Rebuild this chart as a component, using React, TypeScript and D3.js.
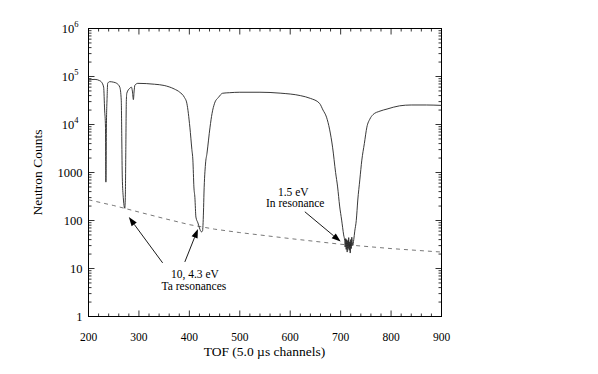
import React, { useEffect, useRef } from "react";
import * as d3 from "d3";

// transmission spectrum (channel, counts)
const tofChannels = [
  200, 213, 222, 226, 230, 232, 233.7, 234.5, 235.5, 237, 238, 242, 250, 256, 262, 265, 266, 267, 269, 271, 272, 273,
  274, 275, 276, 282, 285, 287, 289, 290.5, 292, 298, 331, 350, 370, 381, 390, 395, 401, 405, 407, 409, 411, 413, 417,
  420, 424, 426, 428, 429, 432, 435, 441, 445, 450, 458, 466, 480, 500, 540, 580, 620, 640, 658, 665, 672, 678, 684,
  690, 694, 698, 702, 706, 708, 709, 710, 711, 712, 713, 714, 715, 716, 717, 718, 719, 720, 721, 722, 724, 726, 728,
  731, 734, 738, 742, 747, 752, 758, 764, 778, 792, 817, 840, 870, 900,
];
const counts = [
  85000, 87000, 82000, 76000, 60000, 20000, 8800, 630, 8800, 40000, 72000, 78000, 76000, 72000, 60000, 32000, 5000, 800,
  300, 190, 180, 300, 3000, 30000, 45000, 57000, 60000, 50000, 33000, 50000, 66000, 72000, 69000, 65000, 55000, 47000,
  37000, 27700, 8800, 3000, 1810, 500, 300, 118, 89, 70, 58, 60, 150, 373, 1500, 2530, 8800, 17000, 27700, 37000, 44800,
  46000, 47000, 47000, 45000, 40000, 35000, 27700, 20000, 14200, 8000, 3370, 1000, 500, 200, 102, 50, 38, 28, 42, 25,
  40, 22, 38, 26, 44, 24, 36, 21, 40, 26, 45, 30, 40, 60, 100, 267, 700, 1810, 4000, 8800, 13000, 16000, 19000, 21000,
  24500, 25500, 25500, 25000,
];

// dashed background estimate
const bgChannels = [200, 250, 300, 350, 400, 450, 500, 600, 700, 800, 900];
const bgCounts = [270, 205, 150, 110, 82, 66, 56, 42, 32, 26, 22];

const xTicks = [200, 300, 400, 500, 600, 700, 800, 900];
const yTicks = [1, 10, 100, 1000, 1e4, 1e5, 1e6];
const yTickLabels = [
  { base: "1", sup: "" },
  { base: "10", sup: "" },
  { base: "100", sup: "" },
  { base: "1000", sup: "" },
  { base: "10", sup: "4" },
  { base: "10", sup: "5" },
  { base: "10", sup: "6" },
];

// annotations in data coords
const arrows = [
  { from: [347, 13.1], to: [280, 118] },
  { from: [391, 13.7], to: [417, 66.6] },
  { from: [629, 152], to: [700, 36.3] },
];
const notes = [
  { text: "10, 4.3 eV", x: 411, y: 6.4 },
  { text: "Ta resonances", x: 409, y: 3.6 },
  { text: "1.5 eV", x: 606, y: 323 },
  { text: "In resonance", x: 610, y: 191 },
];

function App() {
  const chart = useRef<SVGSVGElement>(null);

  useEffect(() => {
    const width = 598;
    const height = 374;
    const margin = { top: 28.5, right: 156.5, bottom: 57.5, left: 88.5 };
    const svg = d3.select(chart.current).attr("width", width).attr("height", height);
    const g = svg.append("g");
    const font = "'Liberation Serif', 'Times New Roman', serif";

    const x = d3.scaleLinear().domain([200, 900]).range([margin.left, width - margin.right]);
    const y = d3.scaleLog().domain([1, 1e6]).range([height - margin.bottom, margin.top]);
    const [x0, x1] = x.range();
    const [y0, y1] = y.range();

    // frame
    g.append("rect")
      .attr("x", x0).attr("y", y1)
      .attr("width", x1 - x0).attr("height", y0 - y1)
      .attr("fill", "none").attr("stroke", "#000").attr("stroke-width", 1);

    // x ticks, bottom and top
    const xMinor = d3.range(200, 901, 20);
    xMinor.forEach(v => {
      const major = v % 100 === 0;
      const len = major ? 6 : 3;
      g.append("line").attr("x1", x(v)).attr("x2", x(v)).attr("y1", y0).attr("y2", y0 - len)
        .attr("stroke", "#000").attr("stroke-width", 0.8);
      g.append("line").attr("x1", x(v)).attr("x2", x(v)).attr("y1", y1).attr("y2", y1 + len)
        .attr("stroke", "#000").attr("stroke-width", 0.8);
    });
    g.selectAll(".xlab").data(xTicks).enter().append("text")
      .attr("x", d => x(d)).attr("y", y0 + 24)
      .attr("text-anchor", "middle").attr("font-family", font).attr("font-size", 11.5)
      .text(d => d);

    // y ticks, left and right
    const yMinor: number[] = [];
    for (let e = 0; e < 6; e++) for (let k = 1; k < 10; k++) yMinor.push(k * Math.pow(10, e));
    yMinor.push(1e6);
    yMinor.forEach(v => {
      const major = Math.abs(Math.log10(v) - Math.round(Math.log10(v))) < 1e-9;
      const len = major ? 6 : 3;
      g.append("line").attr("x1", x0).attr("x2", x0 + len).attr("y1", y(v)).attr("y2", y(v))
        .attr("stroke", "#000").attr("stroke-width", 0.8);
      g.append("line").attr("x1", x1).attr("x2", x1 - len).attr("y1", y(v)).attr("y2", y(v))
        .attr("stroke", "#000").attr("stroke-width", 0.8);
    });
    yTicks.forEach((v, i) => {
      const lab = yTickLabels[i];
      const t = g.append("text")
        .attr("x", lab.sup ? x0 - 10 : x0 - 6).attr("y", y(v) + 4)
        .attr("text-anchor", "end").attr("font-family", font).attr("font-size", 12.5);
      t.append("tspan").text(lab.base);
      if (lab.sup) {
        t.append("tspan").attr("dy", -6).attr("font-size", 8.5).text(lab.sup);
      }
    });

    // axis titles
    g.append("text")
      .attr("x", (x0 + x1) / 2 - 0.5).attr("y", 356)
      .attr("text-anchor", "middle").attr("font-family", font).attr("font-size", 13.5)
      .text("TOF (5.0 \u00b5s channels)");
    g.append("text")
      .attr("transform", `translate(42, ${(y0 + y1) / 2}) rotate(-90)`)
      .attr("text-anchor", "middle").attr("font-family", font).attr("font-size", 13.5)
      .text("Neutron Counts");

    // background dashed
    const line = d3.line<[number, number]>().x(d => x(d[0])).y(d => y(d[1]));
    g.append("path")
      .attr("d", line(bgChannels.map((c, i) => [c, bgCounts[i]] as [number, number])))
      .attr("fill", "none").attr("stroke", "#555").attr("stroke-width", 0.8)
      .attr("stroke-dasharray", "4,4");

    // spectrum
    g.append("path")
      .attr("d", line.curve(d3.curveMonotoneX)(tofChannels.map((c, i) => [c, counts[i]] as [number, number])))
      .attr("fill", "none").attr("stroke", "#222").attr("stroke-width", 0.9);

    // arrows
    arrows.forEach(a => {
      const fx = x(a.from[0]), fy = y(a.from[1]);
      const tx = x(a.to[0]), ty = y(a.to[1]);
      const ang = Math.atan2(ty - fy, tx - fx);
      const hl = 9, hw = 3.2;
      const bx = tx - hl * Math.cos(ang), by = ty - hl * Math.sin(ang);
      g.append("line").attr("x1", fx).attr("y1", fy).attr("x2", bx).attr("y2", by)
        .attr("stroke", "#000").attr("stroke-width", 0.9);
      const px = -Math.sin(ang) * hw, py = Math.cos(ang) * hw;
      g.append("path")
        .attr("d", `M${tx},${ty}L${bx + px},${by + py}L${bx - px},${by - py}Z`)
        .attr("fill", "#000");
    });

    g.selectAll(".note").data(notes).enter().append("text")
      .attr("x", d => x(d.x)).attr("y", d => y(d.y))
      .attr("text-anchor", "middle").attr("font-family", font).attr("font-size", 11.5)
      .text(d => d.text);

    return () => {
      svg.selectAll("*").remove();
    };
  }, []);

  return (
    <svg ref={chart} style={{ position: "absolute", left: 0, top: 0, background: "#fff" }}></svg>
  );
}

export default App;
